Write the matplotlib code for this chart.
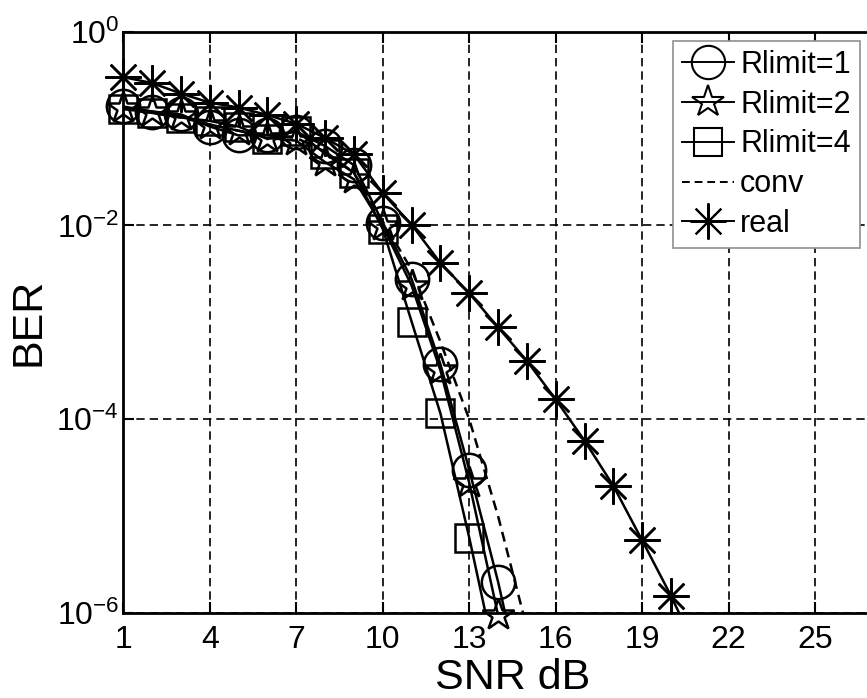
import numpy as np
import matplotlib
matplotlib.use("Agg")
import matplotlib.pyplot as plt
from matplotlib.lines import Line2D

plt.rcParams['font.family'] = ['Liberation Sans', 'DejaVu Sans']
plt.rcParams['mathtext.fontset'] = 'custom'
plt.rcParams['mathtext.rm'] = 'Liberation Sans'
plt.rcParams['mathtext.it'] = 'Liberation Sans:italic'
plt.rcParams['mathtext.bf'] = 'Liberation Sans:bold'

# values (BER vs SNR in dB)
snr_r1 = [1, 2, 3, 4, 5, 6, 7, 8, 9, 10, 11, 12, 13, 14, 15]
ber_r1 = [0.169, 0.15, 0.14, 0.105, 0.085, 0.086, 0.093, 0.066, 0.042,
          0.0107, 2.8e-3, 3.7e-4, 3.0e-5, 2.1e-6, 1.0e-7]

snr_r2 = [1, 2, 3, 4, 5, 6, 7, 8, 9, 10, 11, 12, 13, 14, 15]
ber_r2 = [0.165, 0.15, 0.135, 0.11, 0.095, 0.08, 0.075, 0.045, 0.03,
          0.0098, 2.4e-3, 3.2e-4, 2.2e-5, 9.5e-7, 4e-8]

snr_r4 = [1, 2, 3, 4, 5, 6, 7, 8, 9, 10, 11, 12, 13, 14]
ber_r4 = [0.16, 0.145, 0.13, 0.12, 0.105, 0.078, 0.095, 0.055, 0.035,
          0.0092, 1.02e-3, 1.15e-4, 6e-6, 2.5e-7]

snr_conv = [1, 2, 3, 4, 5, 6, 7, 8, 9, 10, 11, 12, 13, 14, 15]
ber_conv = [0.16, 0.145, 0.13, 0.11, 0.095, 0.085, 0.08, 0.058, 0.035,
            0.011, 3.5e-3, 6.3e-4, 1e-4, 1e-5, 7e-7]

snr_real = [1, 2, 3, 4, 5, 6, 7, 8, 9, 10, 11, 12, 13, 14, 15, 16, 17,
            18, 19, 20, 21]
ber_real = [0.34, 0.295, 0.23, 0.185, 0.165, 0.138, 0.112, 0.08, 0.054,
            0.0215, 0.0102, 0.0041, 0.002, 8.9e-4, 4e-4, 1.6e-4, 6e-5,
            2.05e-5, 5.6e-6, 1.5e-6, 3.5e-7]

xticks = [1, 4, 7, 10, 13, 16, 19, 22, 25]
yticks = [1e0, 1e-2, 1e-4, 1e-6]
ytick_labels = [r'$10^{0}$', r'$10^{-2}$', r'$10^{-4}$', r'$10^{-6}$']

series = [
    (snr_r1, ber_r1, 'o', 24, '-', 'Rlimit=1'),
    (snr_r2, ber_r2, '*', 24, '-', 'Rlimit=2'),
    (snr_r4, ber_r4, 's', 20, '-', 'Rlimit=4'),
    (snr_conv, ber_conv, 'None', 0, (0, (4, 2.5)), 'conv'),
    (snr_real, ber_real, (8, 2, 0), 26, '-', 'real'),
]

YMIN = 1e-6

fig = plt.figure(figsize=(8.67, 6.98), dpi=100)
# the axes run on past the right edge, as in the cropped original
ax = fig.add_axes([0.1422, 0.1218, 1.040 - 0.1422, 0.9546 - 0.1218])
ax.set_yscale('log')
ax.set_xlim(1, 28)
ax.set_ylim(YMIN, 1)

handles = []
for xs, ys, mk, ms, ls, name in series:
    xs = np.array(xs)
    ys = np.array(ys)
    ax.plot(xs, ys, color='k', linestyle=ls, linewidth=1.8, zorder=3)
    if mk != 'None':
        keep = ys >= 0.85 * YMIN
        ax.plot(xs[keep], ys[keep], linestyle='None', marker=mk,
                markersize=ms, markerfacecolor='none', markeredgecolor='k',
                markeredgewidth=1.8, clip_on=False, zorder=4)
    handles.append(Line2D([], [], color='k', linestyle=ls, linewidth=1.4,
                          marker=mk, markersize=ms, markerfacecolor='none',
                          markeredgecolor='k', markeredgewidth=1.5,
                          label=name))

# grid line at the right limit (28) is off the cropped picture anyway
ax.set_xticks(xticks)
ax.set_yticks(yticks)
ax.set_yticklabels(ytick_labels)
ax.minorticks_off()
ax.tick_params(direction='in', length=8, width=1.5, top=True, right=True,
               labelsize=23)
ax.tick_params(axis='y', pad=3)
ax.tick_params(axis='x', pad=9)
ax.grid(True, color='k', linestyle=(0, (5, 3)), linewidth=1.2)
for sp in ax.spines.values():
    sp.set_linewidth(2)

ax.set_xlabel('SNR dB', fontsize=31, labelpad=2)
ax.set_ylabel('BER', fontsize=31, labelpad=6)

leg = ax.legend(handles=handles, loc='upper left',
                bbox_to_anchor=(0.706, 0.9845), borderaxespad=0,
                fontsize=22, handlelength=1.7, handletextpad=0.2,
                labelspacing=0.32, borderpad=0.3, fancybox=False,
                framealpha=1)
leg.get_frame().set_edgecolor('#909090')
leg.get_frame().set_linewidth(1.2)

fig.savefig('out.png', dpi=100)
